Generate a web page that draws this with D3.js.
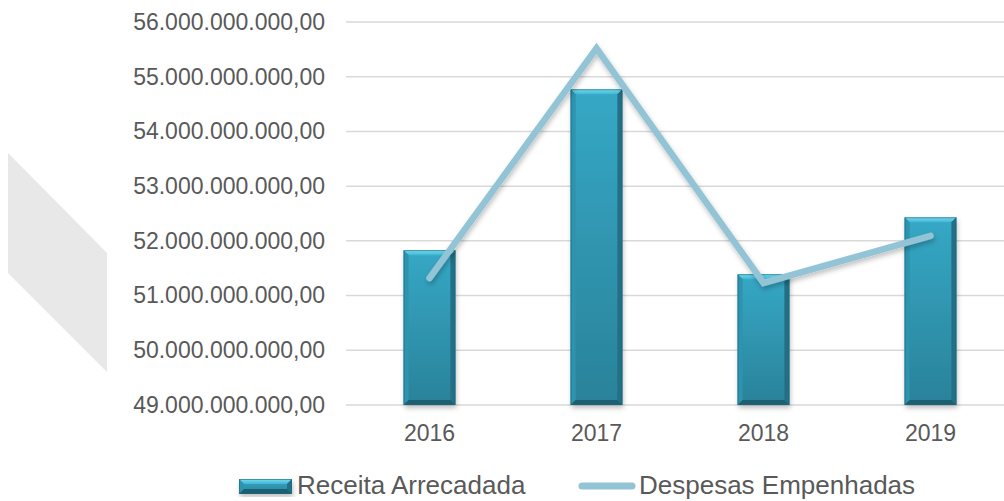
<!DOCTYPE html>
<html lang="pt">
<head>
  <meta charset="UTF-8">
  <title>Receita x Despesa</title>
  <script src="https://d3js.org/d3.v7.min.js"></script>
  <style>
    body { margin: 0; background: #fff; }
    text { font-family: "Liberation Sans", Arial, sans-serif; fill: #595959; }
    .tick-label { font-size: 23px; }
    .legend-text { font-size: 26px; }
  </style>
</head>
<body>
<div id="chart"></div>
<script>
  // data
  const years = ["2016", "2017", "2018", "2019"];
  const receita = [51.83e9, 54.77e9, 51.39e9, 52.43e9];   // bars
  const despesas = [51.32e9, 55.52e9, 51.23e9, 52.09e9];  // line
  const yTicks = [49e9, 50e9, 51e9, 52e9, 53e9, 54e9, 55e9, 56e9];
  const seriesNames = ["Receita Arrecadada", "Despesas Empenhadas"];

  const width = 1004, height = 501;
  const plotLeft = 346, plotRight = 1014, plotTop = 22, plotBottom = 405;

  const svg = d3.select("#chart").append("svg")
    .attr("width", width)
    .attr("height", height);

  const defs = svg.append("defs");

  // bar body gradient
  const grad = defs.append("linearGradient")
    .attr("id", "barGrad").attr("x1", 0).attr("y1", 0).attr("x2", 0).attr("y2", 1);
  grad.append("stop").attr("offset", "0%").attr("stop-color", "#35a8c6");
  grad.append("stop").attr("offset", "100%").attr("stop-color", "#2a8299");

  const topGrad = defs.append("linearGradient")
    .attr("id", "topGrad").attr("x1", 0).attr("y1", 0).attr("x2", 0).attr("y2", 1);
  topGrad.append("stop").attr("offset", "0%").attr("stop-color", "#7adcf0");
  topGrad.append("stop").attr("offset", "100%").attr("stop-color", "#3db6d3");

  const shadow = defs.append("filter").attr("id", "shadow")
    .attr("x", "-20%").attr("y", "-20%").attr("width", "140%").attr("height", "140%");
  shadow.append("feDropShadow")
    .attr("dx", 1).attr("dy", 3).attr("stdDeviation", 2.5)
    .attr("flood-color", "#000").attr("flood-opacity", 0.25);

  // decorative grey shape on the left
  svg.append("polygon")
    .attr("points", "8,153 107,253 107,372 8,273")
    .attr("fill", "#e8e8e8");

  const x = d3.scaleBand()
    .domain(years)
    .range([plotLeft, plotRight])
    .paddingInner(0.69)
    .paddingOuter(0.345);

  const y = d3.scaleLinear()
    .domain([49e9, 56e9])
    .range([plotBottom, plotTop]);

  const locale = d3.formatLocale({ decimal: ",", thousands: ".", grouping: [3], currency: ["R$", ""] });
  const fmt = locale.format(",.2f");

  // gridlines
  svg.append("g")
    .selectAll("line")
    .data(yTicks)
    .join("line")
    .attr("x1", plotLeft)
    .attr("x2", width)
    .attr("y1", d => y(d))
    .attr("y2", d => y(d))
    .attr("stroke", "#d9d9d9")
    .attr("stroke-width", 1.5);

  // y axis labels
  const yAxis = svg.append("g")
    .attr("transform", `translate(${plotLeft}, 0)`)
    .call(d3.axisLeft(y).tickValues(yTicks).tickFormat(fmt).tickSize(0).tickPadding(21));
  yAxis.select(".domain").remove();
  yAxis.selectAll("text").attr("class", "tick-label").attr("fill", "#595959");

  // x axis labels
  const xAxis = svg.append("g")
    .attr("transform", `translate(0, ${plotBottom})`)
    .call(d3.axisBottom(x).tickSize(0).tickPadding(20));
  xAxis.select(".domain").remove();
  xAxis.selectAll("text").attr("class", "tick-label").attr("fill", "#595959");

  // bars with bevel
  const bev = 5;
  function drawBar(g, x0, y0, w, h) {
    g.append("rect")
      .attr("x", x0).attr("y", y0).attr("width", w).attr("height", h)
      .attr("fill", "url(#barGrad)")
      .attr("filter", "url(#shadow)");
    // top bevel
    g.append("polygon")
      .attr("points", [[x0, y0], [x0 + w, y0], [x0 + w - bev, y0 + bev], [x0 + bev, y0 + bev]].join(" "))
      .attr("fill", "url(#topGrad)");
    // left bevel
    g.append("polygon")
      .attr("points", [[x0, y0], [x0 + bev, y0 + bev], [x0 + bev, y0 + h - bev], [x0, y0 + h]].join(" "))
      .attr("fill", "#2e93ae");
    // right bevel
    g.append("polygon")
      .attr("points", [[x0 + w, y0], [x0 + w, y0 + h], [x0 + w - bev, y0 + h - bev], [x0 + w - bev, y0 + bev]].join(" "))
      .attr("fill", "#236f85");
    // bottom bevel
    g.append("polygon")
      .attr("points", [[x0, y0 + h], [x0 + bev, y0 + h - bev], [x0 + w - bev, y0 + h - bev], [x0 + w, y0 + h]].join(" "))
      .attr("fill", "#1d5f72");
    g.append("rect")
      .attr("x", x0 + 0.5).attr("y", y0 + 0.5).attr("width", w - 1).attr("height", h - 1)
      .attr("fill", "none").attr("stroke", "#1f6679").attr("stroke-width", 1).attr("stroke-opacity", 0.6);
  }

  const bars = svg.append("g");
  years.forEach((yr, i) => {
    const g = bars.append("g");
    drawBar(g, x(yr), y(receita[i]), x.bandwidth(), plotBottom - y(receita[i]));
  });

  // line
  const line = d3.line()
    .x((d, i) => x(years[i]) + x.bandwidth() / 2)
    .y(d => y(d));

  svg.append("path")
    .datum(despesas)
    .attr("d", line)
    .attr("fill", "none")
    .attr("stroke", "#92c4d5")
    .attr("stroke-width", 6.5)
    .attr("stroke-linecap", "round")
    .attr("stroke-linejoin", "miter")
    .attr("filter", "url(#shadow)");

  // legend
  const legend = svg.append("g");
  drawBar(legend.append("g"), 239, 479, 53, 15);
  legend.append("text")
    .attr("class", "legend-text")
    .attr("x", 297).attr("y", 494)
    .text(seriesNames[0]);

  legend.append("line")
    .attr("x1", 582).attr("x2", 632)
    .attr("y1", 486).attr("y2", 486)
    .attr("stroke", "#92c4d5")
    .attr("stroke-width", 7)
    .attr("stroke-linecap", "round");
  legend.append("text")
    .attr("class", "legend-text")
    .attr("x", 639).attr("y", 494)
    .text(seriesNames[1]);
</script>
</body>
</html>
